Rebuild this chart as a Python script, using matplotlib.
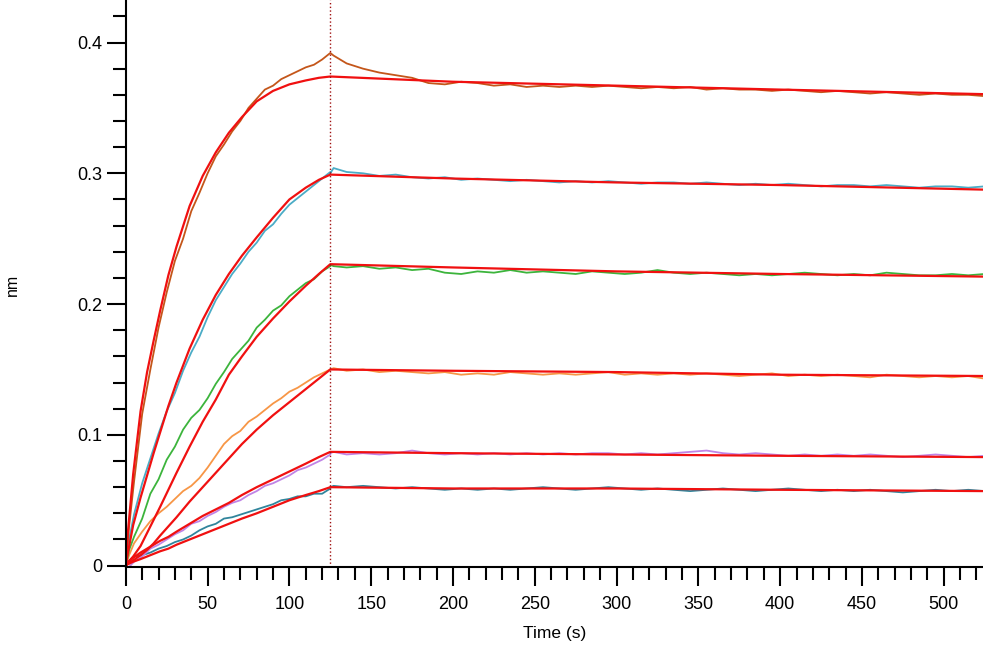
import matplotlib
matplotlib.use("Agg")
import matplotlib.pyplot as plt
from matplotlib.ticker import MultipleLocator
import numpy as np

plt.rcParams['font.family'] = ['Liberation Sans', 'DejaVu Sans']

# association phase (0-125 s), raw traces
t_raw_assoc = [0, 2, 5, 10, 15, 20, 25, 30, 35, 40,
               45, 50, 55, 60, 65, 70, 75, 80, 85, 90,
               95, 100, 105, 110, 115, 120, 125]

raw_assoc = {
    'c1': [0, 0.030, 0.064, 0.116, 0.150, 0.182, 0.209, 0.233, 0.250, 0.271,
           0.285, 0.300, 0.313, 0.322, 0.332, 0.340, 0.350, 0.357, 0.364, 0.367,
           0.372, 0.375, 0.378, 0.381, 0.383, 0.387, 0.392],
    'c2': [0, 0.020, 0.039, 0.063, 0.082, 0.101, 0.118, 0.132, 0.149, 0.163,
           0.175, 0.190, 0.203, 0.213, 0.223, 0.231, 0.240, 0.247, 0.256, 0.261,
           0.269, 0.276, 0.281, 0.286, 0.291, 0.296, 0.301],
    'c3': [0, 0.012, 0.022, 0.036, 0.055, 0.066, 0.081, 0.091, 0.104, 0.113,
           0.119, 0.128, 0.139, 0.148, 0.158, 0.165, 0.172, 0.182, 0.188, 0.195,
           0.199, 0.206, 0.211, 0.216, 0.219, 0.225, 0.229],
    'c4': [0, 0.008, 0.017, 0.026, 0.034, 0.040, 0.045, 0.051, 0.057, 0.061,
           0.067, 0.075, 0.084, 0.093, 0.099, 0.103, 0.110, 0.114, 0.119, 0.124,
           0.128, 0.133, 0.136, 0.140, 0.144, 0.147, 0.150],
    'c5': [-0.003, -0.001, 0.003, 0.007, 0.013, 0.016, 0.020, 0.024, 0.027, 0.032,
           0.034, 0.038, 0.041, 0.045, 0.048, 0.050, 0.054, 0.057, 0.061, 0.063,
           0.066, 0.069, 0.073, 0.075, 0.078, 0.081, 0.085],
    'c6': [0, 0.004, 0.007, 0.008, 0.010, 0.013, 0.015, 0.018, 0.020, 0.023,
           0.027, 0.030, 0.032, 0.036, 0.037, 0.039, 0.041, 0.043, 0.045, 0.047,
           0.050, 0.051, 0.053, 0.053, 0.055, 0.055, 0.059],
}

# association phase, fitted curves
t_fit_assoc = [0, 1, 4.5, 9, 13, 17, 21, 26, 31, 39, 47, 55, 63, 71, 80, 90, 100, 110, 118, 125]

fit_assoc = {
    'c1': [0, 0.022, 0.070, 0.118, 0.148, 0.172, 0.195, 0.222, 0.244, 0.275,
           0.298, 0.316, 0.331, 0.343, 0.355, 0.363, 0.368, 0.371, 0.373, 0.374],
    'c2': [0, 0.008, 0.031, 0.052, 0.069, 0.086, 0.102, 0.122, 0.140, 0.166,
           0.188, 0.207, 0.223, 0.237, 0.251, 0.266, 0.280, 0.289, 0.295, 0.299],
    'c3': [0, 0.002, 0.007, 0.015, 0.025, 0.035, 0.045, 0.058, 0.071, 0.091,
           0.110, 0.127, 0.146, 0.160, 0.175, 0.189, 0.202, 0.214, 0.223, 0.2305],
    'c4': [0, 0.001, 0.004, 0.008, 0.012, 0.017, 0.023, 0.030, 0.037, 0.049,
           0.060, 0.071, 0.082, 0.093, 0.104, 0.115, 0.125, 0.135, 0.143, 0.150],
    'c5': [0, 0.002, 0.006, 0.010, 0.013, 0.016, 0.019, 0.022, 0.026, 0.032,
           0.038, 0.043, 0.048, 0.054, 0.060, 0.066, 0.072, 0.078, 0.083, 0.087],
    'c6': [0, 0.001, 0.003, 0.005, 0.007, 0.009, 0.011, 0.013, 0.016, 0.020,
           0.024, 0.028, 0.032, 0.036, 0.040, 0.045, 0.050, 0.054, 0.057, 0.060],
}

# dissociation phase (125-525 s)
t_diss = [125, 127, 135, 145, 155, 165, 175, 185, 195, 205,
          215, 225, 235, 245, 255, 265, 275, 285, 295, 305,
          315, 325, 335, 345, 355, 365, 375, 385, 395, 405,
          415, 425, 435, 445, 455, 465, 475, 485, 495, 505,
          515, 525]

raw_diss = {
    'c1': [0.392, 0.390, 0.384, 0.380, 0.377, 0.375, 0.373, 0.369, 0.368, 0.370,
           0.369, 0.367, 0.368, 0.366, 0.367, 0.366, 0.367, 0.366, 0.367, 0.366,
           0.365, 0.366, 0.365, 0.366, 0.364, 0.365, 0.364, 0.364, 0.363, 0.364,
           0.363, 0.362, 0.363, 0.362, 0.361, 0.362, 0.361, 0.360, 0.361, 0.360,
           0.360, 0.359],
    'c2': [0.300, 0.304, 0.301, 0.300, 0.298, 0.299, 0.297, 0.296, 0.297, 0.295,
           0.296, 0.295, 0.294, 0.295, 0.294, 0.293, 0.294, 0.293, 0.294, 0.293,
           0.292, 0.293, 0.293, 0.292, 0.293, 0.292, 0.291, 0.292, 0.291, 0.292,
           0.291, 0.290, 0.291, 0.291, 0.290, 0.291, 0.290, 0.289, 0.290, 0.290,
           0.289, 0.290],
    'c3': [0.230, 0.229, 0.228, 0.229, 0.227, 0.228, 0.226, 0.227, 0.224, 0.223,
           0.225, 0.224, 0.226, 0.224, 0.225, 0.224, 0.223, 0.225, 0.224, 0.223,
           0.224, 0.226, 0.224, 0.223, 0.224, 0.223, 0.222, 0.223, 0.222, 0.223,
           0.224, 0.223, 0.222, 0.223, 0.222, 0.224, 0.223, 0.222, 0.222, 0.223,
           0.222, 0.223],
    'c4': [0.150, 0.151, 0.149, 0.150, 0.148, 0.149, 0.148, 0.147, 0.148, 0.146,
           0.147, 0.146, 0.148, 0.147, 0.146, 0.147, 0.146, 0.147, 0.148, 0.146,
           0.147, 0.146, 0.147, 0.146, 0.147, 0.146, 0.145, 0.146, 0.147, 0.145,
           0.146, 0.145, 0.146, 0.145, 0.144, 0.146, 0.145, 0.144, 0.145, 0.144,
           0.145, 0.143],
    'c5': [0.086, 0.087, 0.085, 0.086, 0.085, 0.086, 0.088, 0.086, 0.085, 0.086,
           0.085, 0.086, 0.085, 0.086, 0.085, 0.086, 0.085, 0.086, 0.086, 0.085,
           0.086, 0.085, 0.086, 0.087, 0.088, 0.086, 0.085, 0.086, 0.085, 0.084,
           0.085, 0.084, 0.085, 0.084, 0.085, 0.084, 0.083, 0.084, 0.085, 0.084,
           0.083, 0.084],
    'c6': [0.060, 0.061, 0.060, 0.061, 0.060, 0.059, 0.060, 0.059, 0.058, 0.059,
           0.058, 0.059, 0.058, 0.059, 0.060, 0.059, 0.058, 0.059, 0.060, 0.059,
           0.058, 0.059, 0.058, 0.057, 0.058, 0.059, 0.058, 0.057, 0.058, 0.059,
           0.058, 0.057, 0.058, 0.057, 0.058, 0.057, 0.056, 0.057, 0.058, 0.057,
           0.058, 0.057],
}

t_fit_diss = [125, 200, 300, 400, 525]
fit_diss = {
    'c1': [0.374, 0.370, 0.367, 0.364, 0.3605],
    'c2': [0.299, 0.296, 0.293, 0.291, 0.2875],
    'c3': [0.2305, 0.228, 0.225, 0.223, 0.221],
    'c4': [0.150, 0.149, 0.148, 0.146, 0.145],
    'c5': [0.087, 0.086, 0.085, 0.084, 0.083],
    'c6': [0.060, 0.059, 0.059, 0.058, 0.057],
}

colors = {'c1': '#C4561A', 'c2': '#4BACC6', 'c3': '#3CB43C',
          'c4': '#F79646', 'c5': '#C084E6', 'c6': '#31859C'}
fit_color = '#F01010'

fig = plt.figure(figsize=(9.83, 6.45), dpi=100)
ax = fig.add_axes([0.128, 0.121, 0.872, 0.879])

for key in ['c6', 'c5', 'c4', 'c3', 'c2', 'c1']:
    ax.plot(t_raw_assoc + t_diss, raw_assoc[key] + raw_diss[key], color=colors[key], lw=1.3)
for key in ['c6', 'c5', 'c4', 'c3', 'c2', 'c1']:
    ax.plot(t_fit_assoc + t_fit_diss, fit_assoc[key] + fit_diss[key], color=fit_color, lw=1.6)

ax.axvline(125, color='#A01010', ls=':', lw=1)

ax.set_xlim(0, 524)
ax.set_ylim(-0.001, 0.4325)
ax.xaxis.set_major_locator(MultipleLocator(50))
ax.xaxis.set_minor_locator(MultipleLocator(10))
ax.yaxis.set_minor_locator(MultipleLocator(0.02))
ax.set_yticks([0, 0.1, 0.2, 0.3, 0.4])
ax.set_yticklabels(['0', '0.1', '0.2', '0.3', '0.4'])

for side in ['top', 'right']:
    ax.spines[side].set_visible(False)
for side in ['left', 'bottom']:
    ax.spines[side].set_linewidth(1.5)

ax.tick_params(which='major', direction='out', length=14, width=1.5, labelsize=13, pad=3)
ax.tick_params(which='minor', direction='out', length=9.5, width=1.5)
ax.tick_params(axis='x', which='major', pad=7)

ax.set_xlabel('Time (s)', fontsize=12.5, labelpad=9)
fig.text(12 / 983, 1 - 285 / 645, 'nm', rotation=90, ha='center', va='center', fontsize=11.5)

fig.savefig('out.png', dpi=100)
